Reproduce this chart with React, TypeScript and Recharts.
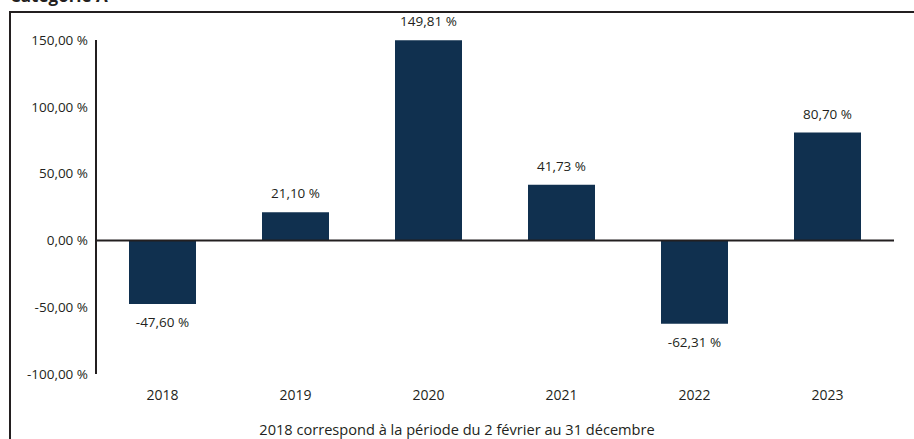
import { BarChart, Bar, XAxis, YAxis, ReferenceLine, LabelList } from 'recharts';

const annees = ['2018', '2019', '2020', '2021', '2022', '2023'];
const rendements = [-47.6, 21.1, 149.81, 41.73, -62.31, 80.7];
const graduations = [-100, -50, 0, 50, 100, 150];

const data = annees.map((annee, i) => ({ annee, valeur: rendements[i] }));

const POLICE = '"Open Sans", Lato, sans-serif';
const TEXTE = '#231f20';

const fmt = (v: number) => v.toFixed(2).replace('.', ',') + ' %';

function Etiquette(props: any) {
  const { x, y, width, height, value } = props;
  const haut = Math.min(y, y + height);
  const bas = Math.max(y, y + height);
  const cy = value >= 0 ? haut - 19 : bas + 18;
  return (
    <text
      x={x + width / 2}
      y={cy}
      textAnchor="middle"
      dominantBaseline="central"
      fontSize={13.5}
      fontFamily={POLICE}
      fill={TEXTE}
    >
      {fmt(value)}
    </text>
  );
}

export default function App() {
  return (
    <div style={{ position: 'absolute', left: 0, top: 0, width: 914, height: 439, overflow: 'hidden', background: '#fff', fontFamily: POLICE }}>
      <div style={{ position: 'absolute', left: 10, top: -13, fontSize: 17, lineHeight: '17px', fontWeight: 700, color: TEXTE }}>
        Catégorie A
      </div>
      <div style={{ position: 'absolute', left: 9, top: 11, width: 905, height: 428, borderTop: `2px solid ${TEXTE}`, borderLeft: `2px solid ${TEXTE}` }} />
      <BarChart
        width={914}
        height={439}
        data={data}
        margin={{ top: 40, right: 20, left: 0, bottom: 35 }}
        style={{ position: 'absolute', left: 0, top: 0 }}
      >
        <XAxis
          dataKey="annee"
          axisLine={false}
          tickLine={false}
          tickSize={0}
          tickMargin={16}
          tick={{ fontSize: 14, fontFamily: POLICE, fill: TEXTE }}
          height={30}
        />
        <YAxis
          type="number"
          domain={[-100, 150]}
          ticks={graduations}
          interval={0}
          width={96}
          tickLine={false}
          tickSize={0}
          tickMargin={8}
          axisLine={{ stroke: TEXTE, strokeWidth: 2 }}
          tickFormatter={fmt}
          tick={{ fontSize: 13.5, fontFamily: POLICE, fill: TEXTE }}
        />
        <ReferenceLine y={0} stroke={TEXTE} strokeWidth={2} />
        <Bar dataKey="valeur" fill="#10304f" barSize={67} isAnimationActive={false}>
          <LabelList dataKey="valeur" content={Etiquette} />
        </Bar>
      </BarChart>
      <div style={{ position: 'absolute', left: 0, width: 914, top: 421, textAlign: 'center', fontSize: 14.6, lineHeight: '17px', color: TEXTE }}>
        2018 correspond à la période du 2 février au 31 décembre
      </div>
    </div>
  );
}
